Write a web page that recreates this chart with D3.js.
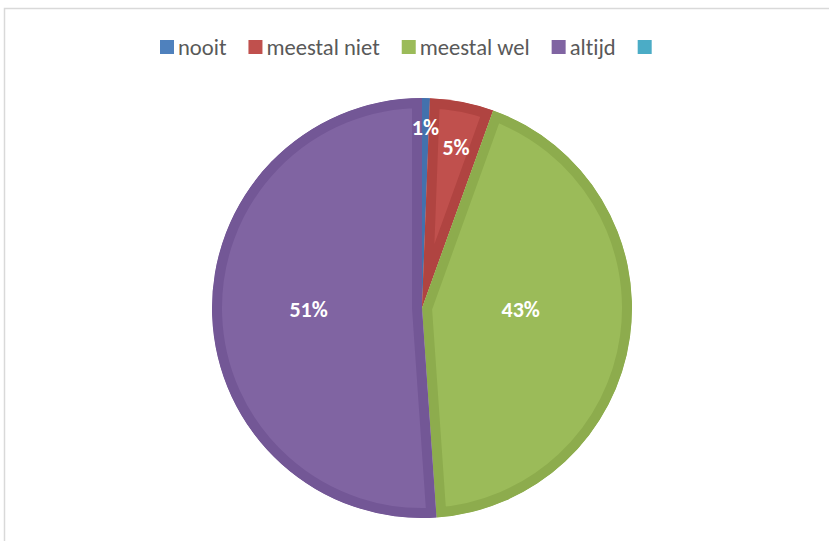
<!DOCTYPE html>
<html>
<head>
<meta charset="utf-8">
<script src="https://cdn.jsdelivr.net/npm/d3@7"></script>
<style>
  body { margin: 0; background: #fff; }
  svg { display: block; }
  text { font-variant-ligatures: none; font-feature-settings: "liga" 0; }
  .legend text { font-family: Carlito, Lato, "Liberation Sans", sans-serif; font-size: 22.6px; fill: #595959; }
  .label { font-family: Carlito, Lato, "Liberation Sans", sans-serif; font-size: 22px; font-weight: bold; fill: #fff; }
</style>
</head>
<body>
<div id="chart"></div>
<script>
// data
var categories = ["nooit", "meestal niet", "meestal wel", "altijd", ""];
var values = [0.6, 4.9, 43.4, 51.1, 0];
var fills = ["#4f81bd", "#c0504d", "#9bbb59", "#8064a2", "#4bacc6"];
var edges = ["#4371ad", "#b04441", "#8dac4d", "#735796", "#3f9bb4"];
// label placement (fraction of radius, angle shift in degrees) - best fit like excel
var labelLayout = [{r: 0.86, da: 0}, {r: 0.78, da: 1}, {r: 0.47, da: -7}, {r: 0.54, da: 1.5}];

var W = 829, H = 541;
var cx = 422, cy = 308, radius = 210;

var svg = d3.select("#chart").append("svg")
    .attr("width", W)
    .attr("height", H);

// chart frame
svg.append("rect")
   .attr("x", 4.5).attr("y", 8.5)
   .attr("width", W + 20).attr("height", H + 20)
   .attr("fill", "none")
   .attr("stroke", "#d9d9d9")
   .attr("stroke-width", 1.5);

var pie = d3.pie().sort(null).value(function(d) {return d;});
var arcs = pie(values);
var arc = d3.arc().innerRadius(0).outerRadius(radius);

var defs = svg.append("defs");
var plot = svg.append("g").attr("transform", "translate(" + cx + "," + cy + ")");

arcs.forEach(function(a, i) {
    if (a.value <= 0) return;
    defs.append("clipPath").attr("id", "clip" + i)
        .append("path").attr("d", arc(a));
    plot.append("path")
        .attr("d", arc(a))
        .attr("fill", fills[i])
        .attr("stroke", edges[i])
        .attr("stroke-width", 20)
        .attr("stroke-linejoin", "round")
        .attr("clip-path", "url(#clip" + i + ")");
});

// data labels
arcs.forEach(function(a, i) {
    if (a.value <= 0) return;
    var lay = labelLayout[i];
    var ang = (a.startAngle + a.endAngle) / 2 + lay.da * Math.PI / 180;
    var r = radius * lay.r;
    plot.append("text")
        .attr("class", "label")
        .attr("x", r * Math.sin(ang))
        .attr("y", -r * Math.cos(ang))
        .attr("dy", "0.35em")
        .attr("text-anchor", "middle")
        .text(Math.round(a.value) + "%");
});

// legend
var legend = svg.append("g").attr("class", "legend");
var lx = 160, ly = 47;
categories.forEach(function(c, i) {
    var item = legend.append("g").attr("transform", "translate(" + lx + "," + ly + ")");
    item.append("rect")
        .attr("x", 0).attr("y", -7)
        .attr("width", 14).attr("height", 14)
        .attr("fill", fills[i]);
    var t = item.append("text")
        .attr("x", 18).attr("y", 0)
        .attr("dy", "0.35em")
        .text(c);
    var w = c ? t.node().getComputedTextLength() : 0;
    lx += 18 + w + 22;
});
</script>
</body>
</html>
